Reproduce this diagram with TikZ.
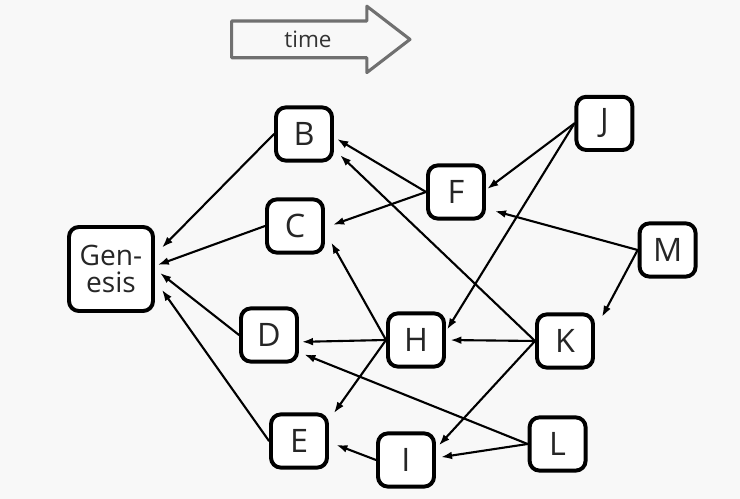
\documentclass[tikz,border=0pt]{standalone}
\usepackage{fontspec}
\setmainfont{Open Sans}
\usetikzlibrary{arrows.meta}
\definecolor{timegray}{RGB}{112,112,112}
\definecolor{paperwhite}{RGB}{248,248,248}

\begin{document}
\begin{tikzpicture}[line cap=round,line join=round,
 blok/.style={draw,line width=2.8pt,rounded corners=7pt,fill=white,
  minimum width=1.4cm,minimum height=1.33cm,inner sep=0pt,
  font=\fontsize{23}{23}\selectfont,text=black!85},
 link/.style={-{Latex[length=8pt,width=5.5pt]},line width=1.5pt,shorten >=3pt}]
 \fill[paperwhite] (0,0) rectangle (18.5,12.475);
 % Time arrow.
 \draw[timegray,line width=2.2pt] (5.79,11.03)--(5.79,11.95)--(9.17,11.95)
  --(9.17,12.32)--(10.25,11.49)--(9.17,10.66)--(9.17,11.03)--cycle;
 \node[font=\fontsize{16}{16}\selectfont,text=black!80] (time) at (7.7,11.48) {time};
 % Blocks.
 \node[blok,minimum size=2.1cm,font=\fontsize{20}{19}\selectfont,align=center]
  (Genesis) at (2.775,5.75) {Gen-\\esis};
 \node[blok] (B) at (7.6,9.125) {B};
 \node[blok] (C) at (7.375,6.825) {C};
 \node[blok] (D) at (6.725,4.1) {D};
 \node[blok] (E) at (7.475,1.45) {E};
 \node[blok] (F) at (11.4,7.675) {F};
 \node[blok] (H) at (10.4,3.975) {H};
 \node[blok] (I) at (10.15,0.975) {I};
 \node[blok] (J) at (15.11,9.39) {J};
 \node[blok] (K) at (14.125,3.95) {K};
 \node[blok] (L) at (13.94,1.375) {L};
 \node[blok] (M) at (16.69,6.225) {M};
 % Links to the parent blocks.
 \draw[link,shorten >=7pt] (B.west) -- (Genesis.18);
 \draw[link,shorten >=2pt] (C.west) -- (Genesis.4);
 \draw[link,shorten >=4.5pt] (D.west) -- (Genesis.east);
 \draw[link,shorten >=8.5pt] (E.west) -- (Genesis.-14);
 \draw[link,shorten >=2.5pt] (F.west) -- (B.-6);
 \draw[link,shorten >=6pt] (F.west) -- (C.-3);
 \draw[link,shorten >=6pt] (K.west) -- (B.-27);
 \draw[link,shorten >=9pt] (H.west) -- (C.-10);
 \draw[link,shorten >=2pt] (H.west) -- (D.-13);
 \draw[link,shorten >=6pt] (H.west) -- (E.35);
 \draw[link,shorten >=1pt] (J.west) -- (F.4);
 \draw[link,shorten >=1.5pt] (J.west) -- (H.16);
 \draw[link,shorten >=6.5pt] (M.west) -- (F.-29);
 \draw[link,shorten >=10.5pt] (M.west) -- (K.20);
 \draw[link] (K.west) -- (H.east);
 \draw[link] (K.west) -- (I.21);
 \draw[link,shorten >=4pt] (L.west) -- (D.-30);
 \draw[link,shorten >=3.5pt] (L.west) -- (I.4);
 \draw[link,shorten >=5.5pt] (I.west) -- (E.-2);
\end{tikzpicture}
\end{document}
